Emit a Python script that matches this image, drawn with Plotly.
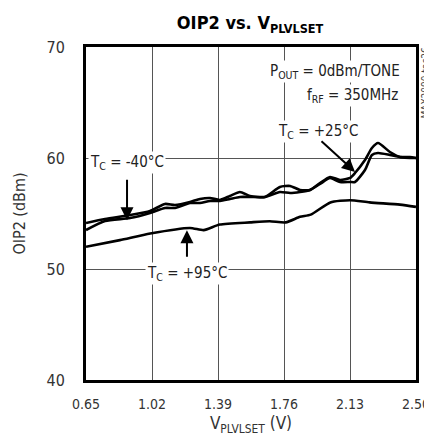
import plotly.graph_objects as go

# Supply voltage VPLVLSET (V)
v = [0.650, 0.757, 0.897, 1.009, 1.093, 1.149, 1.233, 1.289, 1.345, 1.401,
     1.457, 1.513, 1.569, 1.653, 1.737, 1.794, 1.850, 1.906, 1.962, 2.018,
     2.074, 2.130, 2.158, 2.214, 2.253, 2.287, 2.354, 2.410, 2.466, 2.500]

oip2_m40 = [54.14, 54.50, 54.86, 55.23, 55.86, 55.77, 56.04, 56.31, 56.40, 56.22,
            56.58, 56.94, 56.58, 56.49, 57.39, 57.48, 57.12, 57.12, 57.75, 58.29,
            58.02, 58.20, 58.65, 59.82, 60.90, 61.35, 60.54, 60.09, 60.09, 60.00]

oip2_p25 = [53.51, 54.32, 54.59, 55.05, 55.50, 55.50, 55.95, 55.95, 56.13, 56.13,
            56.31, 56.49, 56.49, 56.49, 56.94, 56.85, 56.94, 57.12, 57.66, 58.20,
            57.84, 57.84, 57.84, 58.92, 60.27, 60.45, 60.27, 60.09, 60.00, 60.00]

v95 = [0.650, 0.840, 1.010, 1.233, 1.310, 1.400, 1.570, 1.680, 1.770, 1.850,
       1.910, 2.020, 2.130, 2.240, 2.410, 2.500]
oip2_p95 = [52.0, 52.6, 53.2, 53.7, 53.5, 54.0, 54.2, 54.3, 54.2, 54.7,
            54.9, 56.0, 56.2, 56.0, 55.8, 55.6]

x_ticks = [0.65, 1.02, 1.39, 1.76, 2.13, 2.50]
x_tick_text = ["0.65", "1.02", "1.39", "1.76", "2.13", "2.50"]
y_ticks = [40, 50, 60, 70]

FONT = "DejaVu Sans Condensed, Liberation Sans Narrow, sans-serif"

fig = go.Figure()
for name, xs, ys in [("-40", v, oip2_m40), ("+25", v, oip2_p25), ("+95", v95, oip2_p95)]:
    fig.add_trace(go.Scatter(x=xs, y=ys, mode="lines", name=name,
                             line=dict(color="black", width=2.6, shape="spline", smoothing=0.6)))

ann = []
def label(x, y, text, xanchor="center"):
    ann.append(dict(x=x, y=y, xref="x", yref="y", text=text, showarrow=False,
                    xanchor=xanchor, yanchor="middle", bgcolor="white",
                    font=dict(size=15, color="#222", family=FONT), borderpad=1))

def arrow(x, y, ax, ay):
    ann.append(dict(x=x, y=y, xref="x", yref="y", text="", showarrow=True,
                    ax=ax, ay=ay, arrowhead=2, arrowsize=1.3, arrowwidth=2,
                    arrowcolor="black"))

label(2.42, 67.8, "P<sub>OUT</sub> = 0dBm/TONE", "right")
label(2.41, 65.6, "f<sub>RF</sub> = 350MHz", "right")
label(1.95, 62.4, "T<sub>C</sub> = +25°C")
label(0.88, 59.6, "T<sub>C</sub> = -40°C")
label(1.215, 49.6, "T<sub>C</sub> = +95°C")
arrow(2.158, 58.75, -35, -32)
arrow(0.88, 54.4, 0, -42)
arrow(1.216, 53.5, 0, 28)

ann.append(dict(x=1.0, y=1.0, xref="paper", yref="paper", text="MAX2090 toc26",
                showarrow=False, textangle=-90, xanchor="left", yanchor="top",
                xshift=1, yshift=2, font=dict(size=10, color="#444", family=FONT)))

# page body adds an 8px margin, so the figure is sized to fill the rest of the window
fig.update_layout(
    width=424, height=430,
    margin=dict(l=78, r=16, t=39, b=58, autoexpand=False),
    paper_bgcolor="white", plot_bgcolor="white",
    showlegend=False,
    title=dict(text="<b>OIP2 vs. V<sub>PLVLSET</sub></b>", x=0.571, xanchor="center",
               y=0.965, yanchor="middle",
               font=dict(size=18, color="black", family=FONT)),
    annotations=ann,
    font=dict(family=FONT, color="#222"),
)
fig.update_xaxes(range=[0.65, 2.50], tickvals=x_ticks, ticktext=x_tick_text,
                 automargin=False, ticklabeloverflow="allow",
                 showgrid=True, gridcolor="#555", gridwidth=1,
                 showline=True, linecolor="black", linewidth=3, mirror=True,
                 ticks="", ticklabelstandoff=9, tickfont=dict(size=14, color="#333", family=FONT),
                 title=dict(text="V<sub>PLVLSET</sub> (V)", standoff=7,
                            font=dict(size=17, color="#333", family=FONT)),
                 zeroline=False)
fig.update_yaxes(range=[40, 70], tickvals=y_ticks, automargin=False,
                 showgrid=True, gridcolor="#555", gridwidth=1,
                 showline=True, linecolor="black", linewidth=3, mirror=True,
                 ticks="", ticklabelstandoff=15, tickfont=dict(size=16, color="#333", family=FONT),
                 title=dict(text="OIP2 (dBm)", standoff=17,
                            font=dict(size=16, color="#333", family=FONT)),
                 zeroline=False)

fig.write_html("out.html")
